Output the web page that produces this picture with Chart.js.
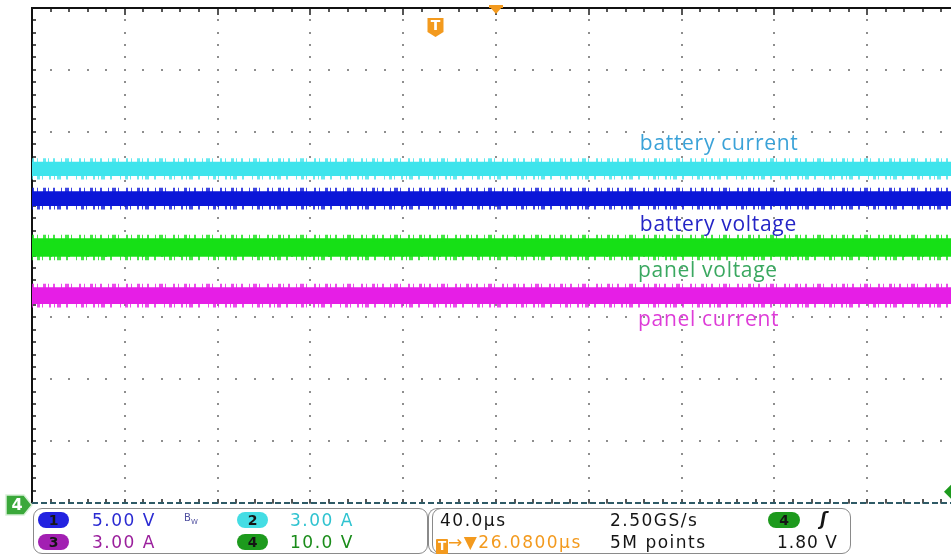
<!DOCTYPE html>
<html>
<head>
<meta charset="utf-8">
<script src="https://cdn.jsdelivr.net/npm/chart.js@4.4.1/dist/chart.umd.min.js"></script>
<style>
  html, body { margin: 0; padding: 0; background: #fff; overflow: hidden; }
  #wrap { position: relative; width: 951px; height: 554px; overflow: hidden; background: #fff; }
  #c { position: absolute; left: 0; top: 0; }
  .lbl { position: absolute; font-family: "Open Sans", sans-serif; font-size: 21px; letter-spacing: 0.7px; line-height: 1; white-space: nowrap; transform: translateY(-55%); }
  .box { position: absolute; border: 1.5px solid #8a8a8a; border-radius: 9px; box-sizing: border-box; }
  .t { position: absolute; font-family: "DejaVu Sans", sans-serif; font-size: 17px; letter-spacing: 1.5px; line-height: 20px; white-space: nowrap; }
  .pill { position: absolute; width: 31px; height: 16px; border-radius: 8px; font-family: "DejaVu Sans", sans-serif; font-size: 14px; font-weight: bold; text-align: center; line-height: 16px; color: #151515; }
  .bw { position: absolute; font-family: "DejaVu Sans", sans-serif; font-size: 10px; color: #5050a0; line-height: 1; }
  .ticon { display: inline-block; width: 12px; height: 15px; background: #f39a1e; color: #fff; font-size: 12px; font-weight: bold; text-align: center; line-height: 15px; letter-spacing: 0; vertical-align: -2px; border-radius: 1px; }
</style>
</head>
<body>
<div id="wrap">
  <canvas id="c" width="963" height="554"></canvas>
  <div id="labels"></div>

  <!-- channel readout -->
  <div class="box" style="left:33px;top:508px;width:395px;height:46px;"></div>
  <div class="pill" style="left:38px;top:512px;background:#2222e0;">1</div>
  <div class="t" style="left:92px;top:510px;color:#2b2bd2;">5.00 V</div>
  <div class="bw" style="left:184px;top:513px;">B<sub style="font-size:7px;">W</sub></div>
  <div class="pill" style="left:237px;top:512px;background:#44dde4;">2</div>
  <div class="t" style="left:290px;top:510px;color:#2fc3d0;">3.00 A</div>
  <div class="pill" style="left:38px;top:534px;background:#a21fb2;">3</div>
  <div class="t" style="left:92px;top:532px;color:#9a1f9c;">3.00 A</div>
  <div class="pill" style="left:237px;top:534px;background:#1d9a1d;">4</div>
  <div class="t" style="left:290px;top:532px;color:#1a8c1a;">10.0 V</div>

  <!-- timebase / trigger readout -->
  <div class="box" style="left:428px;top:508px;width:14px;height:46px;border-right:none;border-radius:9px 0 0 9px;"></div>
  <div class="box" style="left:432px;top:508px;width:419px;height:46px;"></div>
  <div class="t" style="left:440px;top:510px;color:#151515;">40.0µs</div>
  <div class="t" style="left:610px;top:510px;color:#151515;">2.50GS/s</div>
  <div class="pill" style="left:768px;top:512px;width:32px;background:#1d9a1d;">4</div>
  <div class="t" style="left:820px;top:509px;color:#151515;font-style:italic;font-weight:bold;">ʃ</div>
  <div class="t" style="left:436px;top:532px;color:#f39a1e;"><span class="ticon">T</span>→▼26.0800µs</div>
  <div class="t" style="left:610px;top:532px;color:#151515;">5M points</div>
  <div class="t" style="left:777px;top:532px;color:#151515;letter-spacing:1px;">1.80 V</div>
</div>

<script>
// Graticule: 10 x 8 divisions, 5 minor ticks per division
const divsX = 10;
const divsY = 8;
const minorPerDiv = 5;

// Timebase and trigger
const timePerDiv = 40;        // µs / div
const triggerDelay = 26.08;   // µs before the centre of the record
const ch4VoltsPerDiv = 10.0;  // V / div
const triggerLevel = 1.80;    // V on channel 4

// Traces (levels in divisions above the bottom graticule line)
const traceNames  = ['battery current', 'battery voltage', 'panel voltage', 'panel current'];
const traceLevels = [5.40, 4.92, 4.13, 3.35];
const traceSpread = [0.115, 0.120, 0.150, 0.135];   // half height of the noise band, div

// Trace styling
const traceColors = ['#3ee4ec', '#0b16d8', '#16e016', '#e61ee6'];
const labelColors = ['#3aa2d8', '#2424c6', '#3aa860', '#de3cd8'];
const labelPos = [[6.55, 5.80], [6.55, 4.49], [6.53, 3.75], [6.53, 2.96]];

function hexA(hex, a) {
  const n = parseInt(hex.slice(1), 16);
  return `rgba(${(n >> 16) & 255},${(n >> 8) & 255},${n & 255},${a})`;
}

const datasets = [];
traceLevels.forEach((lvl, i) => {
  const top = lvl + traceSpread[i];
  const bot = lvl - traceSpread[i];
  const col = traceColors[i];
  // upper edge of the band, ragged dash to suggest noise spikes
  datasets.push({
    label: traceNames[i],
    data: [{ x: 0, y: top }, { x: divsX, y: top }],
    borderColor: hexA(col, 0.8), borderWidth: 7,
    borderDash: [2, 3, 1, 5, 3, 2, 1, 4, 2, 6, 1, 3, 4, 2, 1, 7],
    pointRadius: 0, fill: false
  });
  // lower edge, filled to the upper edge
  datasets.push({
    label: traceNames[i] + ' ',
    data: [{ x: 0, y: bot }, { x: divsX, y: bot }],
    borderColor: hexA(col, 0.8), borderWidth: 7,
    borderDash: [1, 4, 3, 2, 1, 6, 2, 3, 1, 2, 4, 5, 2, 8],
    pointRadius: 0, fill: '-1', backgroundColor: col
  });
});

const graticule = {
  id: 'graticule',
  beforeDatasetsDraw(chart) {
    const { ctx, chartArea: a, scales: { x, y } } = chart;
    ctx.save();
    // dotted major lines with minor dots
    ctx.fillStyle = '#8e8e8e';
    for (let i = 0; i <= divsX; i++) {
      const px = Math.round(x.getPixelForValue(i));
      for (let j = 0; j <= divsY * minorPerDiv; j++) {
        const py = Math.round(y.getPixelForValue(j / minorPerDiv));
        ctx.fillRect(px - 1, py - 1, 2, 2);
      }
    }
    for (let k = 0; k <= divsY; k++) {
      const py = Math.round(y.getPixelForValue(k));
      for (let j = 0; j <= divsX * minorPerDiv; j++) {
        const px = Math.round(x.getPixelForValue(j / minorPerDiv));
        ctx.fillRect(px - 1, py - 1, 2, 2);
      }
    }
    // edge ticks
    ctx.fillStyle = '#555';
    for (let j = 0; j <= divsX * minorPerDiv; j++) {
      const px = Math.round(x.getPixelForValue(j / minorPerDiv));
      const len = (j % minorPerDiv === 0) ? 7 : 4;
      ctx.fillRect(px - 1, a.top, 2, len);
      ctx.fillRect(px - 1, a.bottom - 4, 2, 4);
    }
    for (let j = 0; j <= divsY * minorPerDiv; j++) {
      const py = Math.round(y.getPixelForValue(j / minorPerDiv));
      ctx.fillRect(a.left, py - 1, 4, 2);
    }
    // frame: solid top and left, dashed bottom
    ctx.fillStyle = '#111';
    ctx.fillRect(a.left - 1, a.top - 1, a.right - a.left + 2, 2);
    ctx.fillRect(a.left - 1, a.top - 1, 2, a.bottom - a.top + 2);
    ctx.strokeStyle = '#2e5a66';
    ctx.lineWidth = 2;
    ctx.setLineDash([6, 3]);
    ctx.beginPath();
    ctx.moveTo(a.left, a.bottom);
    ctx.lineTo(a.right, a.bottom);
    ctx.stroke();
    ctx.restore();
  },
  afterDraw(chart) {
    const { ctx, chartArea: a, scales: { x, y } } = chart;
    ctx.save();
    const orange = '#f39a1e';
    // horizontal position marker (record centre)
    const cx = x.getPixelForValue(divsX / 2);
    ctx.fillStyle = orange;
    ctx.fillRect(cx - 7, a.top - 3, 14, 3);
    ctx.beginPath();
    ctx.moveTo(cx - 7, a.top - 2);
    ctx.lineTo(cx + 7, a.top - 2);
    ctx.lineTo(cx, a.top + 6);
    ctx.closePath();
    ctx.fill();
    // trigger point marker
    const tx = x.getPixelForValue(divsX / 2 - triggerDelay / timePerDiv);
    const ty = a.top + 10;
    ctx.beginPath();
    ctx.moveTo(tx - 8, ty);
    ctx.lineTo(tx + 8, ty);
    ctx.lineTo(tx + 8, ty + 14);
    ctx.lineTo(tx, ty + 19);
    ctx.lineTo(tx - 8, ty + 14);
    ctx.closePath();
    ctx.fill();
    ctx.fillStyle = '#fff';
    ctx.font = 'bold 14px "DejaVu Sans"';
    ctx.textAlign = 'center';
    ctx.textBaseline = 'middle';
    ctx.fillText('T', tx, ty + 8);
    // channel 4 ground marker
    const gy = y.getPixelForValue(0) + 2;
    ctx.fillStyle = '#3aa83a';
    ctx.strokeStyle = '#d8f0d8';
    ctx.lineWidth = 1.5;
    ctx.beginPath();
    ctx.moveTo(6, gy - 10);
    ctx.lineTo(a.left - 8, gy - 10);
    ctx.lineTo(a.left, gy);
    ctx.lineTo(a.left - 8, gy + 10);
    ctx.lineTo(6, gy + 10);
    ctx.closePath();
    ctx.fill();
    ctx.stroke();
    ctx.fillStyle = '#fff';
    ctx.font = 'bold 16px "DejaVu Sans"';
    ctx.fillText('4', 17, gy + 1);
    // channel 4 trigger level marker
    const ly = y.getPixelForValue(triggerLevel / ch4VoltsPerDiv);
    const lx = 952;
    ctx.fillStyle = '#1d9a1d';
    ctx.beginPath();
    ctx.moveTo(lx - 8, ly);
    ctx.lineTo(lx, ly - 8);
    ctx.lineTo(lx + 8, ly);
    ctx.lineTo(lx, ly + 8);
    ctx.closePath();
    ctx.fill();
    ctx.restore();
  }
};

const chart = new Chart(document.getElementById('c'), {
  type: 'line',
  data: { datasets },
  options: {
    responsive: false,
    animation: false,
    events: [],
    layout: { padding: { left: 32, top: 8, right: 3, bottom: 51 } },
    plugins: { legend: { display: false }, tooltip: { enabled: false } },
    scales: {
      x: { type: 'linear', min: 0, max: divsX, display: false },
      y: { type: 'linear', min: 0, max: divsY, display: false }
    }
  },
  plugins: [graticule]
});

// trace captions, placed in graticule units
const holder = document.getElementById('labels');
traceNames.forEach((name, i) => {
  const el = document.createElement('div');
  el.className = 'lbl';
  el.textContent = name;
  el.style.color = labelColors[i];
  el.style.left = chart.scales.x.getPixelForValue(labelPos[i][0]) + 'px';
  el.style.top = chart.scales.y.getPixelForValue(labelPos[i][1]) + 'px';
  holder.appendChild(el);
});
</script>
</body>
</html>
